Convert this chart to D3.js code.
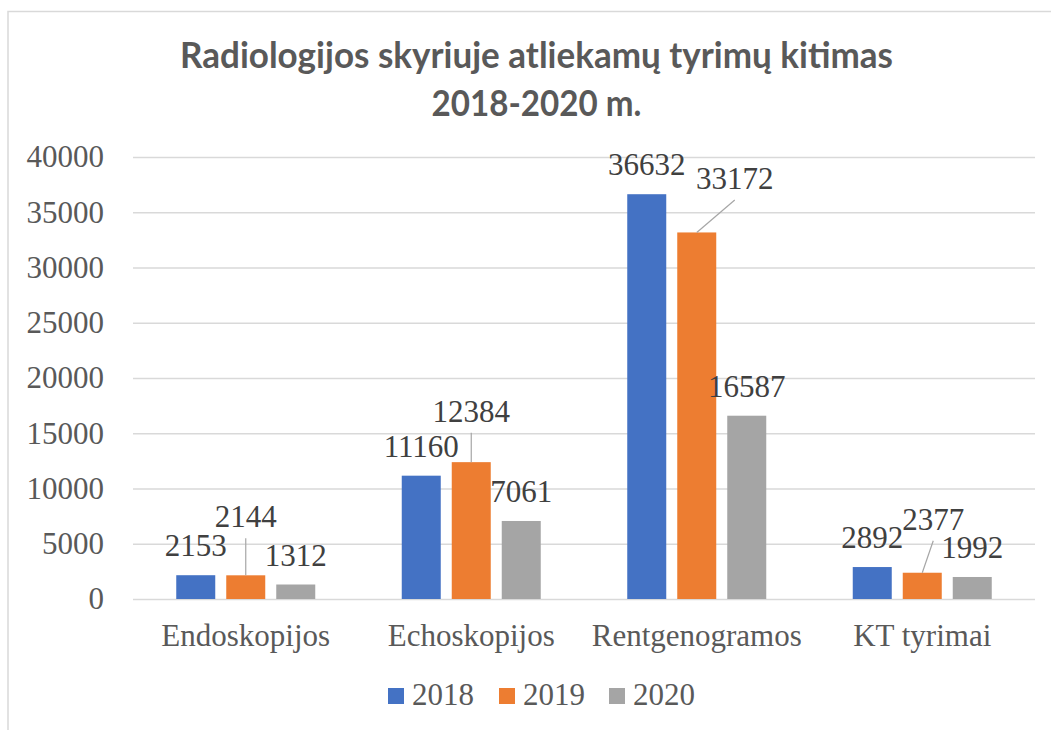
<!DOCTYPE html>
<html>
<head>
<meta charset="utf-8">
<script src="https://cdn.jsdelivr.net/npm/d3@7"></script>
<style>
  html, body { margin: 0; padding: 0; background: #ffffff; }
  svg { display: block; }
</style>
</head>
<body>
<svg id="chart" width="1051" height="730"></svg>
<script>
// ---- data ----
const titleLines = ["Radiologijos skyriuje atliekamų tyrimų kitimas", "2018-2020 m."];
const categories = ["Endoskopijos", "Echoskopijos", "Rentgenogramos", "KT tyrimai"];
const seriesNames = ["2018", "2019", "2020"];
const values2018 = [2153, 11160, 36632, 2892];
const values2019 = [2144, 12384, 33172, 2377];
const values2020 = [1312, 7061, 16587, 1992];
const yTicks = [0, 5000, 10000, 15000, 20000, 25000, 30000, 35000, 40000];

// ---- style / layout (not data) ----
const colors = ["#4472C4", "#ED7D31", "#A5A5A5"];
// manual nudges for labels moved away from their bars (series index -> per-category [dx, dy])
const labelNudge = {
  1: [[0, -29], [0, -21.5], [38, -24.5], [11, -24]]
};

const seriesValues = [values2018, values2019, values2020];
const svg = d3.select("#chart");
const plot = { left: 133, right: 1035, top: 157, bottom: 599 };

// chart frame
svg.append("rect")
  .attr("x", 8).attr("y", 11.5).attr("width", 1200).attr("height", 900)
  .attr("fill", "none").attr("stroke", "#d9d9d9").attr("stroke-width", 1.5);

// title
const title = svg.append("text")
  .attr("text-anchor", "middle")
  .attr("font-family", "Lato, 'Open Sans', sans-serif")
  .attr("font-weight", "bold")
  .attr("font-size", 36)
  .attr("fill", "#595959");
const titleLens = [713, 210];
titleLines.forEach((t, i) => {
  title.append("tspan")
    .attr("x", 536.5)
    .attr("y", 68 + i * 48)
    .attr("textLength", titleLens[i])
    .attr("lengthAdjust", "spacingAndGlyphs")
    .text(t);
});

// scales
const y = d3.scaleLinear().domain([0, 40000]).range([plot.bottom, plot.top]);
const pad = 0.3836;
const x0 = d3.scaleBand().domain(categories).range([plot.left, plot.right])
  .paddingInner(pad).paddingOuter(pad / 2);
const x1 = d3.scaleBand().domain(seriesNames).range([0, x0.bandwidth()])
  .paddingInner(0.22).paddingOuter(0);

// gridlines
svg.append("g")
  .attr("transform", `translate(${plot.left},0)`)
  .call(d3.axisLeft(y).tickValues(yTicks).tickSize(-(plot.right - plot.left)).tickFormat(""))
  .call(g => g.select(".domain").remove())
  .call(g => g.selectAll("line").attr("stroke", "#d9d9d9").attr("stroke-width", 1.5));

// y axis labels
svg.append("g")
  .attr("transform", `translate(${plot.left},0)`)
  .call(d3.axisLeft(y).tickValues(yTicks).tickSize(0).tickPadding(29).tickFormat(d3.format("d")))
  .call(g => g.select(".domain").remove())
  .call(g => g.selectAll("text")
    .attr("font-family", "'Liberation Serif', 'Times New Roman', serif")
    .attr("font-size", 31)
    .attr("fill", "#595959"));

// x axis labels
svg.append("g")
  .attr("transform", `translate(0,${plot.bottom})`)
  .call(d3.axisBottom(x0).tickSize(0).tickPadding(25))
  .call(g => g.select(".domain").remove())
  .call(g => g.selectAll("text")
    .attr("font-family", "'Liberation Serif', 'Times New Roman', serif")
    .attr("font-size", 31)
    .attr("fill", "#595959"));

// bars
const rows = [];
categories.forEach((c, ci) => {
  seriesNames.forEach((s, si) => {
    rows.push({ cat: c, ci, series: s, si, value: seriesValues[si][ci] });
  });
});

const barG = svg.append("g");
barG.selectAll("rect")
  .data(rows)
  .join("rect")
  .attr("x", d => x0(d.cat) + x1(d.series))
  .attr("y", d => y(d.value))
  .attr("width", x1.bandwidth())
  .attr("height", d => y(0) - y(d.value))
  .attr("fill", d => colors[d.si]);

// data labels
const labelG = svg.append("g");
rows.forEach(d => {
  const cx = x0(d.cat) + x1(d.series) + x1.bandwidth() / 2;
  const top = y(d.value);
  let lx = cx, ly = top - 19;
  const nudge = labelNudge[d.si] ? labelNudge[d.si][d.ci] : null;
  if (nudge) {
    lx = cx + nudge[0];
    ly = top - 19 + nudge[1];
    labelG.append("line")
      .attr("x1", cx).attr("y1", top)
      .attr("x2", lx).attr("y2", ly + 11)
      .attr("stroke", "#a6a6a6").attr("stroke-width", 1.2);
  }
  labelG.append("text")
    .attr("x", lx).attr("y", ly)
    .attr("text-anchor", "middle")
    .attr("font-family", "'Liberation Serif', 'Times New Roman', serif")
    .attr("font-size", 31)
    .attr("fill", "#404040")
    .text(d.value);
});

// legend
const legendX = [388, 499, 609];
const legend = svg.append("g");
seriesNames.forEach((s, i) => {
  const g = legend.append("g").attr("transform", `translate(${legendX[i]},0)`);
  g.append("rect").attr("x", 0).attr("y", 688).attr("width", 16).attr("height", 16).attr("fill", colors[i]);
  g.append("text").attr("x", 24).attr("y", 705)
    .attr("font-family", "'Liberation Serif', 'Times New Roman', serif")
    .attr("font-size", 31)
    .attr("fill", "#595959")
    .text(s);
});
</script>
</body>
</html>
